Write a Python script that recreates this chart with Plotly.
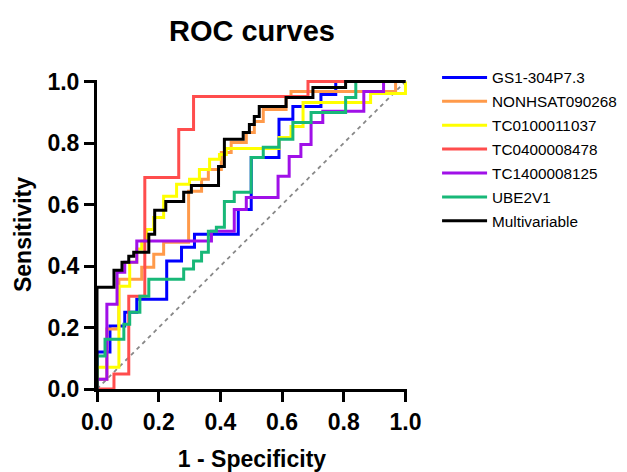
import plotly.graph_objects as go

# ROC step points (x = 1 - specificity where the step occurs, y = sensitivity after step)
gs1_x = [0, 0, 0.042, 0.090, 0.129, 0.226, 0.274, 0.316, 0.458, 0.500, 0.590, 0.635, 0.726, 0.774, 1.0]
gs1_y = [0, 0.120, 0.205, 0.250, 0.292, 0.416, 0.461, 0.503, 0.584, 0.753, 0.877, 0.919, 0.958, 1.0, 1.0]

non_x = [0, 0, 0.032, 0.071, 0.145, 0.184, 0.216, 0.297, 0.339, 0.361, 0.403, 0.435, 0.484, 0.510, 0.539, 0.613, 0.629, 0.968, 1.0]
non_y = [0, 0.032, 0.195, 0.357, 0.396, 0.438, 0.477, 0.643, 0.682, 0.714, 0.769, 0.802, 0.834, 0.870, 0.909, 0.948, 0.968, 1.0, 1.0]

tc01_x = [0, 0, 0.071, 0.106, 0.129, 0.145, 0.161, 0.184, 0.216, 0.258, 0.300, 0.332, 0.365, 0.397, 0.419, 0.590, 0.629, 0.668, 0.887, 1.0]
tc01_y = [0, 0.071, 0.334, 0.412, 0.455, 0.481, 0.519, 0.558, 0.627, 0.666, 0.682, 0.714, 0.747, 0.763, 0.782, 0.818, 0.854, 0.932, 0.961, 1.0]

tc04_x = [0, 0.055, 0.103, 0.155, 0.265, 0.313, 0.684, 1.0]
tc04_y = [0, 0.049, 0.302, 0.688, 0.844, 0.951, 1.0, 1.0]

tc14_x = [0, 0, 0.032, 0.065, 0.090, 0.129, 0.371, 0.445, 0.484, 0.587, 0.623, 0.661, 0.694, 0.732, 0.865, 0.929, 1.0]
tc14_y = [0, 0.032, 0.276, 0.380, 0.412, 0.481, 0.513, 0.584, 0.623, 0.692, 0.756, 0.795, 0.867, 0.903, 0.968, 1.0, 1.0]

ube_x = [0, 0, 0.026, 0.087, 0.106, 0.139, 0.168, 0.281, 0.313, 0.339, 0.361, 0.387, 0.413, 0.445, 0.500, 0.539, 0.590, 0.635, 0.694, 0.806, 0.839, 1.0]
ube_y = [0, 0.107, 0.162, 0.211, 0.250, 0.302, 0.357, 0.390, 0.416, 0.445, 0.513, 0.526, 0.610, 0.640, 0.753, 0.786, 0.812, 0.867, 0.899, 0.948, 1.0, 1.0]

multi_x = [0, 0, 0.055, 0.081, 0.103, 0.119, 0.168, 0.187, 0.223, 0.281, 0.306, 0.394, 0.413, 0.474, 0.494, 0.510, 0.526, 0.613, 0.700, 0.806, 1.0]
multi_y = [0, 0.331, 0.386, 0.412, 0.432, 0.445, 0.503, 0.581, 0.610, 0.640, 0.662, 0.724, 0.812, 0.834, 0.860, 0.886, 0.919, 0.948, 0.981, 1.0, 1.0]

ref_x = [0, 1]
ref_y = [0, 1]

names = ["GS1-304P7.3", "NONHSAT090268", "TC0100011037", "TC0400008478",
         "TC1400008125", "UBE2V1", "Multivariable"]
colors = ["#0000FF", "#FF9A4A", "#FFFF00", "#FF4D4D", "#A010E8", "#18B878", "#000000"]
series = [(gs1_x, gs1_y), (non_x, non_y), (tc01_x, tc01_y), (tc04_x, tc04_y),
          (tc14_x, tc14_y), (ube_x, ube_y), (multi_x, multi_y)]

FONT = "Liberation Sans, Arial, sans-serif"

fig = go.Figure()
fig.add_trace(go.Scatter(x=ref_x, y=ref_y, mode="lines", showlegend=False,
                         line=dict(color="#888888", width=1.8, dash="4px,4px")))
for i, (nm, col, (xs, ys)) in enumerate(zip(names, colors, series)):
    fig.add_trace(go.Scatter(x=xs, y=ys, mode="lines", name=nm, legendgroup=f"g{i}",
                             line=dict(color=col, width=3, shape="hv")))

axis_common = dict(
    showline=True, linecolor="black", linewidth=3,
    ticks="outside", ticklen=10, tickwidth=3, tickcolor="black",
    showgrid=False, zeroline=False, automargin=False,
    tickfont=dict(family=FONT, size=23, color="black", weight="bold"),
    tickformat=".1f", dtick=0.2, tick0=0,
)

# the page adds an 8px body margin, so the figure is 8px smaller than the window
fig.update_layout(
    width=619, height=464,
    margin=dict(l=89, r=220, t=72, b=83, autoexpand=False),
    paper_bgcolor="white", plot_bgcolor="white",
    title=dict(text="<b>ROC curves</b>", x=0.5, xref="paper", y=0.9504, yref="container",
               xanchor="center", yanchor="middle",
               font=dict(family=FONT, size=29, color="black")),
    xaxis=dict(range=[0, 1.005], title=dict(text="<b>1 - Specificity</b>", standoff=18,
               font=dict(family=FONT, size=23, color="black")), **axis_common),
    yaxis=dict(range=[0, 1.005], title=dict(text="<b>Sensitivity</b>", standoff=10,
               font=dict(family=FONT, size=23, color="black")), **axis_common),
    legend=dict(x=1.097, xanchor="left", y=1.0615, yanchor="top",
                font=dict(family=FONT, size=15.3, color="black"),
                itemwidth=45, tracegroupgap=1, traceorder="grouped",
                bgcolor="rgba(0,0,0,0)"),
)

fig.write_html("out.html")
